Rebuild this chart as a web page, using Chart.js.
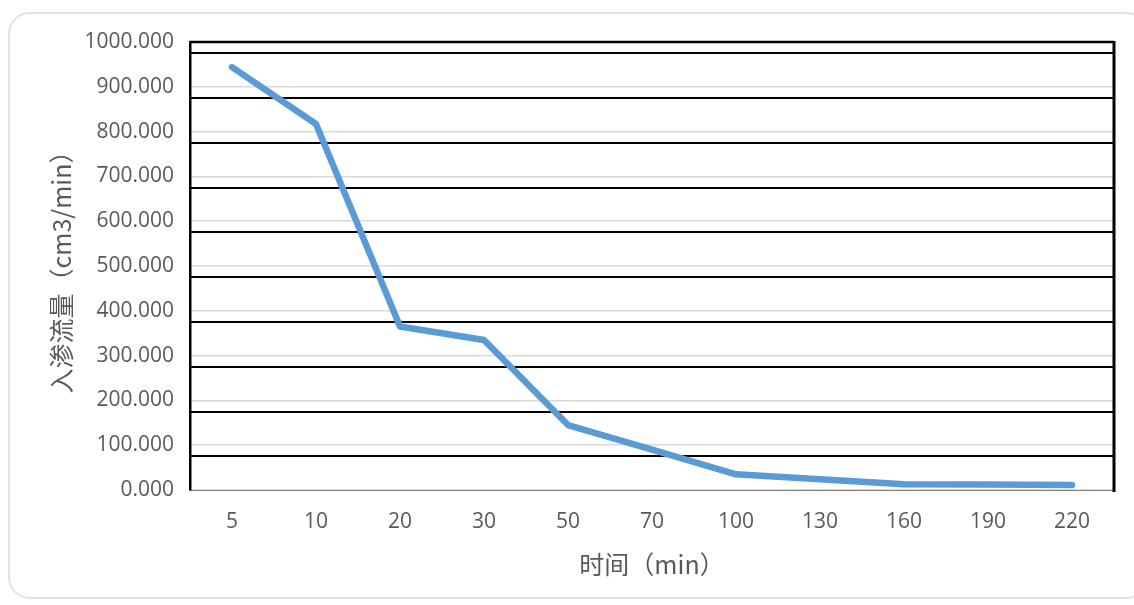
<!DOCTYPE html>
<html>
<head>
<meta charset="utf-8">
<script src="https://cdn.jsdelivr.net/npm/chart.js@4"></script>
<style>
  html, body { margin: 0; padding: 0; background: #fff; }
  #wrap { position: relative; width: 1134px; height: 605px; overflow: hidden; }
  #frame {
    position: absolute; left: 8px; top: 12px; width: 1140px; height: 587px;
    border: 2px solid #e2e2e2; border-radius: 22px; box-sizing: border-box;
  }
  canvas { position: absolute; left: 0; top: 0; }
</style>
</head>
<body>
<div id="wrap">
  <div id="frame"></div>
  <canvas id="c" width="1134" height="605"></canvas>
</div>
<script>
// Infiltration rate over time
const categories = ['5', '10', '20', '30', '50', '70', '100', '130', '160', '190', '220'];
const infiltration = [944, 817, 365, 335, 145, 90, 35, 24, 13, 12, 11];

const yMin = 0, yMax = 1000, yStep = 100;
// the dark ruling sits a little below each light gridline
const rulingShift = 25;

const tickFont = { family: "'Open Sans', 'Noto Sans CJK SC', sans-serif", size: 21 };
const titleFont = { family: "'Noto Sans CJK SC', 'Open Sans', sans-serif", size: 25 };

const ruling = {
  id: 'ruling',
  beforeDatasetsDraw(chart) {
    const { ctx, chartArea: a, scales: { y } } = chart;
    ctx.save();
    ctx.strokeStyle = '#000';
    ctx.lineWidth = 2;
    y.ticks.forEach(t => {
      if (t.value <= yMin) return;
      const py = Math.round(y.getPixelForValue(t.value - rulingShift));
      ctx.beginPath(); ctx.moveTo(a.left, py); ctx.lineTo(a.right, py); ctx.stroke();
    });
    ctx.lineWidth = 2.5;
    ctx.beginPath(); ctx.moveTo(a.left, a.top); ctx.lineTo(a.right, a.top); ctx.stroke();
    ctx.lineWidth = 3;
    ctx.beginPath(); ctx.moveTo(a.right, a.top - 1); ctx.lineTo(a.right, a.bottom + 2); ctx.stroke();
    ctx.restore();
  }
};

new Chart(document.getElementById('c'), {
  type: 'line',
  data: {
    labels: categories,
    datasets: [{
      data: infiltration,
      borderColor: '#5b9bd5',
      borderWidth: 6.5,
      borderCapStyle: 'round',
      borderJoinStyle: 'round',
      pointRadius: 0,
      tension: 0,
      fill: false
    }]
  },
  options: {
    responsive: false,
    animation: false,
    devicePixelRatio: 1,
    layout: { padding: { top: 42, right: 20, left: 0, bottom: 0 } },
    plugins: { legend: { display: false }, tooltip: { enabled: false } },
    scales: {
      x: {
        offset: true,
        grid: { display: false, drawTicks: false },
        border: { display: true, color: '#7f7f7f', width: 1 },
        ticks: { font: tickFont, color: '#595959', padding: 19, maxRotation: 0 },
        title: { display: true, text: '时间（min）', font: titleFont, color: '#595959', padding: { top: 0, bottom: 26 } },
        afterFit(s) { s.height = 115; }
      },
      y: {
        min: yMin, max: yMax,
        grid: { color: '#d9d9d9', lineWidth: 1.5, drawTicks: false },
        border: { display: true, color: '#000', width: 2.5 },
        ticks: { stepSize: yStep, font: tickFont, color: '#595959', padding: 16, callback: v => Number(v).toFixed(3) },
        title: { display: true, text: '入渗流量（cm3/min）', font: titleFont, color: '#595959', padding: { top: 46, bottom: 0 } },
        afterFit(s) { s.width = 190; }
      }
    }
  },
  plugins: [ruling]
});
</script>
</body>
</html>
